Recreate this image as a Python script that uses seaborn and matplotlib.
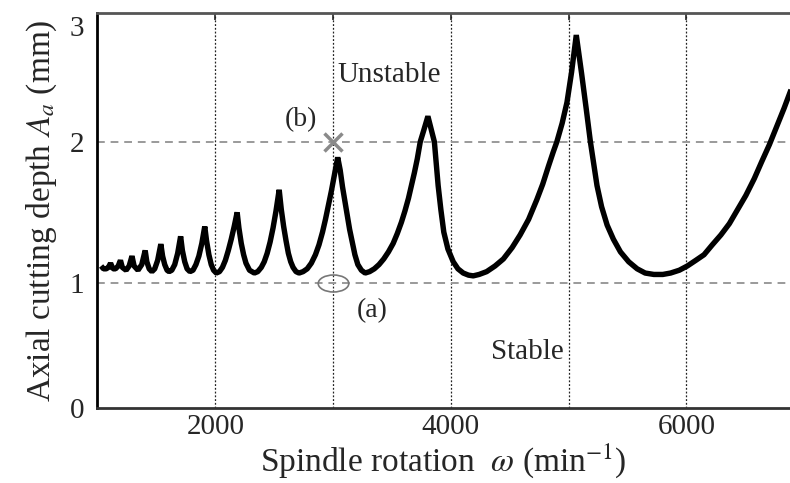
import numpy as np
import pandas as pd
import matplotlib
matplotlib.use("Agg")
import matplotlib.pyplot as plt
from matplotlib.path import Path
from matplotlib.transforms import Affine2D
import seaborn as sns

# stability lobe boundary (left to right)
spindle_speed = [
    1030, 1050, 1073, 1092, 1110, 1130, 1152, 1175, 1194, 1210, 1242, 1268,
    1292, 1310, 1343, 1375, 1404, 1418, 1438, 1461, 1485, 1510, 1537,
    1552, 1570, 1590, 1607, 1630, 1655, 1680, 1705,
    1720, 1740, 1760, 1784, 1810, 1835, 1860, 1885, 1910,
    1925, 1945, 1965, 1985, 2008, 2035, 2060, 2085, 2110, 2135, 2160, 2185,
    2200, 2220, 2240, 2260, 2290, 2331, 2360, 2390, 2415, 2440, 2465, 2490,
    2515, 2542,
    2560, 2580, 2600, 2620, 2640, 2660, 2685, 2711, 2745, 2780, 2815, 2850,
    2880, 2910, 2935, 2960, 2985, 3005, 3025, 3039,
    3060, 3080, 3100, 3120, 3140, 3160, 3185, 3210, 3240, 3272, 3310, 3350,
    3390, 3430, 3470, 3510, 3545, 3580, 3610, 3640, 3665, 3690, 3715, 3740,
    3770, 3805,
    3860, 3892, 3915, 3940, 3975, 4020, 4060, 4105, 4150, 4190, 4240, 4304,
    4375, 4446, 4520, 4588, 4660, 4730, 4780, 4830, 4870, 4900, 4945, 4986,
    5025, 5065,
    5110, 5150, 5185, 5241, 5280, 5327, 5380, 5440, 5510, 5582, 5650, 5724,
    5800, 5866, 5940, 6008, 6080, 6150, 6220, 6293, 6365, 6435, 6505, 6577,
    6640, 6705, 6770, 6830, 6889]
axial_depth = [
    1.12, 1.10, 1.10, 1.11, 1.14, 1.10, 1.10, 1.12, 1.16, 1.11, 1.09, 1.12,
    1.19, 1.12, 1.09, 1.13, 1.23, 1.15, 1.10, 1.08, 1.10, 1.16, 1.275,
    1.19, 1.13, 1.09, 1.08, 1.09, 1.13, 1.21, 1.33,
    1.23, 1.15, 1.10, 1.08, 1.09, 1.13, 1.19, 1.28, 1.40,
    1.30, 1.20, 1.13, 1.09, 1.07, 1.08, 1.11, 1.16, 1.23, 1.31, 1.40, 1.50,
    1.39, 1.28, 1.20, 1.14, 1.09, 1.07, 1.08, 1.11, 1.15, 1.21, 1.29, 1.39,
    1.51, 1.66,
    1.52, 1.40, 1.30, 1.21, 1.15, 1.11, 1.08, 1.07, 1.08, 1.10, 1.14, 1.20,
    1.27, 1.36, 1.45, 1.55, 1.65, 1.74, 1.83, 1.89,
    1.80, 1.68, 1.58, 1.48, 1.38, 1.30, 1.20, 1.13, 1.09, 1.07, 1.08, 1.10,
    1.13, 1.17, 1.22, 1.28, 1.35, 1.43, 1.51, 1.60, 1.69, 1.78, 1.88, 2.00,
    2.10, 2.22,
    2.00, 1.69, 1.52, 1.36, 1.24, 1.15, 1.10, 1.07, 1.055, 1.05, 1.06, 1.08,
    1.12, 1.17, 1.25, 1.34, 1.45, 1.59, 1.70, 1.83, 1.93, 2.00, 2.16, 2.34,
    2.60, 2.92,
    2.59, 2.28, 2.00, 1.69, 1.54, 1.41, 1.31, 1.22, 1.15, 1.10, 1.07, 1.06,
    1.06, 1.07, 1.09, 1.12, 1.16, 1.20, 1.27, 1.34, 1.42, 1.52, 1.62, 1.74,
    1.86, 1.98, 2.14, 2.29, 2.45]

# cutting conditions (a) and (b)
point_a = (3000, 1.0)
point_b = (3000, 2.0)

xticks = [2000, 3000, 4000, 5000, 6000]
xtick_labels = ["2000", "", "4000", "", "6000"]
yticks = [0, 1, 2, 3]

# the printed y axis is not evenly spaced; mimic it with a function scale
y_knots = [-1.0, 0.0, 1.0, 2.0, 3.0, 4.0]
y_pos = [-125.0, 0.0, 125.0, 266.0, 382.0, 498.0]


def y_forward(v):
    return np.interp(v, y_knots, y_pos)


def y_inverse(v):
    return np.interp(v, y_pos, y_knots)


df = pd.DataFrame({"speed": spindle_speed, "depth": axial_depth})

sns.set_style("white")
plt.rcParams["font.family"] = ["Liberation Serif", "DejaVu Serif"]
plt.rcParams["mathtext.fontset"] = "stix"

fig = plt.figure(figsize=(7.9, 4.83), dpi=100)
ax = fig.add_axes([0.1228, 0.1553, 0.8772, 0.8178])
ax.set_yscale("function", functions=(y_forward, y_inverse))

# grid
for xv in xticks:
    ax.axvline(xv, color="#222222", lw=0.9, ls=(0, (1.5, 1.5)), zorder=1)
for yv in [1, 2]:
    ax.axhline(yv, color="#9a9a9a", lw=1.4, ls=(0, (4, 3)), zorder=1)

sns.lineplot(data=df, x="speed", y="depth", sort=False, estimator=None,
             color="black", lw=3.9, ax=ax, zorder=3)
ax.get_lines()[-1].set_solid_joinstyle("bevel")
ax.get_lines()[-1].set_solid_capstyle("butt")

ax.plot(*point_b, marker="x", ms=13, mew=2.5, color="#8a8a8a", zorder=4)
ellipse = Path.unit_circle().transformed(Affine2D().scale(1.8, 1.0))
ax.plot(*point_a, marker=ellipse, ms=22, mew=1.2, mfc="none",
        mec="#777777", zorder=4)

ax.text(2730, 2.19, "(b)", fontsize=20, ha="center", va="center")
ax.text(3330, 0.78, "(a)", fontsize=20, ha="center", va="center")
ax.text(3480, 2.58, "Unstable", fontsize=21, ha="center", va="center")
ax.text(4650, 0.45, "Stable", fontsize=21, ha="center", va="center")

ax.set_xlim(995, 6880)
ax.set_ylim(0, 3.11)
ax.set_xticks(xticks)
ax.set_xticklabels(xtick_labels)
ax.set_yticks(yticks)
ax.set_yticklabels([str(t) for t in yticks])
ax.yaxis.set_minor_locator(matplotlib.ticker.NullLocator())
ax.tick_params(axis="x", direction="in", length=5, width=1.2, pad=4,
               labelsize=21, top=True, labeltop=False)
ax.tick_params(axis="y", direction="in", length=5, width=1.2, pad=9,
               labelsize=21)

ax.set_xlabel(r"Spindle rotation  $\omega$ (min$^{-1}$)", fontsize=24,
              labelpad=1)
ax.set_ylabel(r"Axial cutting depth $A_a$ (mm)", fontsize=24, labelpad=8)

for side in ["left", "bottom", "top"]:
    ax.spines[side].set_visible(True)
    ax.spines[side].set_linewidth(2.0)
ax.spines["left"].set_color("black")
ax.spines["bottom"].set_color("#333333")
ax.spines["top"].set_color("#555555")
ax.spines["right"].set_visible(False)

fig.savefig("out.png", dpi=100)
